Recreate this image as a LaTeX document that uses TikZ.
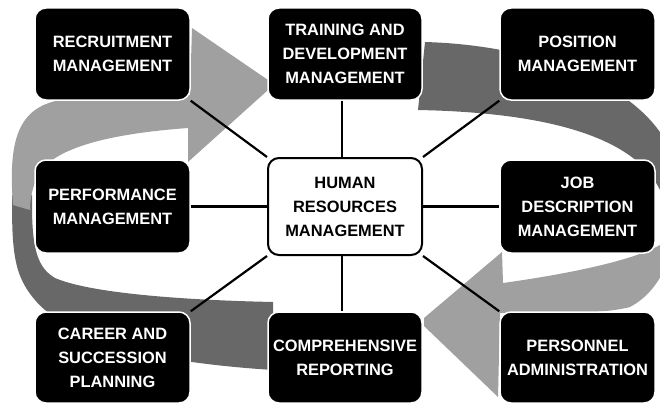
\documentclass[tikz,border=0pt]{standalone}
\usepackage{fontspec}
\setmainfont{Liberation Sans}
\definecolor{lightg}{RGB}{160,160,160}
\definecolor{darkg}{RGB}{104,104,104}
\pgfdeclarelayer{bands}
\pgfdeclarelayer{links}
\pgfsetlayers{bands,links,main}
\begin{document}
\begin{tikzpicture}[x=1pt,y=-1pt,
  blk/.style={draw=white, line width=1.5pt, fill=black, rounded corners=11pt,
    text=white, font=\bfseries\fontsize{16.4}{24}\selectfont, align=center,
    inner sep=0pt, minimum width=155pt, minimum height=92pt},
  ctr/.style={blk, fill=white, draw=black, line width=2pt, text=black, minimum height=97pt, minimum width=154pt},
  link/.style={line width=2.2pt, draw=black}]
\useasboundingbox (0,0) rectangle (660,404);

% boxes
\node[blk] (rec) at (112.5,54) {RECRUITMENT\\MANAGEMENT};
\node[blk, minimum width=154pt] (trn) at (345,54) {TRAINING AND\\DEVELOPMENT\\MANAGEMENT};
\node[blk] (pos) at (577.5,54) {POSITION\\MANAGEMENT};
\node[blk, minimum height=93pt] (per) at (112.5,206.5) {PERFORMANCE\\MANAGEMENT};
\node[ctr] (hrm) at (345,206.5) {HUMAN\\RESOURCES\\MANAGEMENT};
\node[blk, minimum height=93pt] (job) at (577.5,206.5) {JOB\\DESCRIPTION\\MANAGEMENT};
\node[blk, minimum height=91pt] (car) at (112.5,357.5) {CAREER AND\\SUCCESSION\\PLANNING};
\node[blk, minimum width=154pt, minimum height=91pt] (com) at (345,357.5) {COMPREHENSIVE\\REPORTING};
\node[blk, minimum height=91pt] (pnl) at (577.5,357.5) {PERSONNEL\\ADMINISTRATION};

% connectors
\begin{pgfonlayer}{links}
\draw[link] (rec.south east) -- (hrm.north west);
\draw[link] ([xshift=-3pt]trn.south) -- ([xshift=-3pt]hrm.north);
\draw[link] (pos.south west) -- (hrm.north east);
\draw[link] (per.east) -- (hrm.west);
\draw[link] (hrm.east) -- (job.west);
\draw[link] (car.north east) -- (hrm.south west);
\draw[link] ([xshift=-3pt]hrm.south) -- ([xshift=-3pt]com.north);
\draw[link] (hrm.south east) -- (pnl.north west);
\end{pgfonlayer}

% circular arrows
\begin{pgfonlayer}{bands}
\begin{scope}
\clip (0,0) rectangle (660,404);
% right arrow, dark part
\fill[darkg] (418,110) -- (425,42) .. controls (530,45) and (630,80) .. (665,140)
  .. controls (675,160) and (678,180) .. (678,205) -- (660,205) -- (660,190)
  .. controls (630,128) and (520,112) .. (418,110) -- cycle;
% right arrow, light part
\fill[lightg] (678,200) .. controls (678,250) and (662,290) .. (630,307)
  .. controls (600,315) and (540,313) .. (500,313) -- (498,397) -- (424,326)
  -- (424,318) -- (502,252) -- (503,283)
  .. controls (560,275) and (630,262) .. (660,245)
  .. controls (668,235) and (668,215) .. (660,200) -- cycle;
% left arrow, dark part
\fill[darkg] (273,302) -- (273,370) .. controls (150,362) and (40,340) .. (18,270)
  .. controls (12,250) and (12,225) .. (12,195) -- (32,195) -- (32,205)
  .. controls (32,250) and (38,268) .. (55,278)
  .. controls (90,293) and (180,300) .. (273,302) -- cycle;
% left arrow, light part
\fill[lightg] (13,205) .. controls (8,140) and (18,108) .. (60,100)
  .. controls (100,92) and (150,92) .. (190,95) -- (192,28) -- (268,80)
  -- (268,90) -- (188,162) -- (188,128)
  .. controls (120,133) and (55,145) .. (38,175)
  .. controls (32,188) and (30,200) .. (30,210) -- cycle;
\end{scope}
\end{pgfonlayer}
\end{tikzpicture}
\end{document}
